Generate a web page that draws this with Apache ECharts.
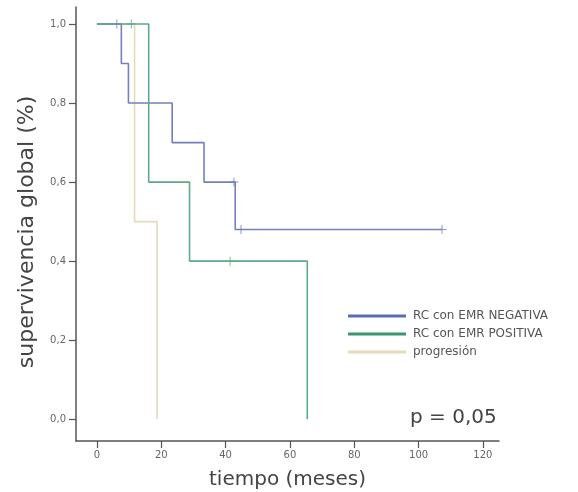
<!DOCTYPE html>
<html><head><meta charset="utf-8">
<script src="https://cdn.jsdelivr.net/npm/echarts@6/dist/echarts.min.js"></script>
<style>html,body{margin:0;padding:0;background:#fff}#c{width:578px;height:492px}</style>
</head><body><div id="c"></div>
<script>
// Kaplan-Meier data (months, survival)
var negTimes = [0, 7.6, 9.8, 23.4, 33.3, 43.0, 107.3];
var negSurv  = [1.0, 0.9, 0.8, 0.7, 0.6, 0.48, 0.48];
var negCensorT = [6.2, 42.6, 44.8, 107.3];
var negCensorS = [1.0, 0.6, 0.48, 0.48];

var posTimes = [0, 16.1, 28.8, 65.4];
var posSurv  = [1.0, 0.6, 0.4, 0.0];
var posCensorT = [10.7, 41.4];
var posCensorS = [1.0, 0.4];

var progTimes = [0, 11.7, 18.7];
var progSurv  = [1.0, 0.5, 0.0];

var seriesNames = ['RC con EMR NEGATIVA', 'RC con EMR POSITIVA', 'progresión'];
var xTicks = [0, 20, 40, 60, 80, 100, 120];
var yTicks = [0, 0.2, 0.4, 0.6, 0.8, 1.0];

function zip(a, b) { return a.map(function (v, i) { return [v, b[i]]; }); }

var cBlue = '#7480bd', cGreen = '#5fa888', cTan = '#e2dab8';
var lBlue = '#5a6db0', lGreen = '#3f9470', lTan = '#e3dbbb';
var font = '"DejaVu Sans", sans-serif';
var cross = 'path://M4,0L5,0L5,4L9,4L9,5L5,5L5,9L4,9L4,5L0,5L0,4L4,4Z';

var chart = echarts.init(document.getElementById('c'));
chart.setOption({
  animation: false,
  grid: { left: 76, right: 79, top: 7, bottom: 51, outerBoundsMode: 'none' },
  xAxis: {
    type: 'value', min: -6.5, max: 125,
    splitLine: { show: false },
    axisLine: { onZero: false, lineStyle: { color: '#555', width: 1.5 } },
    axisTick: { customValues: xTicks, length: 7, lineStyle: { color: '#555', width: 1.2 } },
    axisLabel: { customValues: xTicks, color: '#666', fontSize: 10, fontFamily: font, margin: 9 },
    name: 'tiempo (meses)', nameLocation: 'middle', nameGap: 29,
    nameTextStyle: { fontSize: 20, color: '#444', fontFamily: font }
  },
  yAxis: {
    type: 'value', min: -0.055, max: 1.043,
    splitLine: { show: false },
    axisLine: { onZero: false, lineStyle: { color: '#555', width: 1.5 } },
    axisTick: { customValues: yTicks, length: 7, lineStyle: { color: '#555', width: 1.2 } },
    axisLabel: { customValues: yTicks, color: '#666', fontSize: 10, fontFamily: font, margin: 10,
      formatter: function (v) { return v.toFixed(1).replace('.', ','); } }
  },
  legend: {
    orient: 'vertical', left: 343, top: 305, itemGap: 6,
    itemWidth: 58, itemHeight: 3, icon: 'rect',
    textStyle: { fontSize: 12, color: '#555', fontFamily: font, padding: [0, 0, 0, 2] },
    data: seriesNames
  },
  series: [
    { name: seriesNames[0], type: 'line', step: 'end', symbol: 'none', data: zip(negTimes, negSurv),
      lineStyle: { color: cBlue, width: 1.6 }, itemStyle: { color: lBlue }, z: 2 },
    { name: seriesNames[1], type: 'line', step: 'end', symbol: 'none', data: zip(posTimes, posSurv),
      lineStyle: { color: cGreen, width: 1.6 }, itemStyle: { color: lGreen }, z: 3 },
    { name: seriesNames[2], type: 'line', step: 'end', symbol: 'none', data: zip(progTimes, progSurv),
      lineStyle: { color: cTan, width: 1.6 }, itemStyle: { color: lTan }, z: 1 },
    { type: 'scatter', data: zip(negCensorT, negCensorS), symbol: cross, symbolSize: 9,
      itemStyle: { color: cBlue }, z: 4, silent: true },
    { type: 'scatter', data: zip(posCensorT, posCensorS), symbol: cross, symbolSize: 9,
      itemStyle: { color: cGreen }, z: 4, silent: true }
  ],
  graphic: [
    { type: 'text', x: 27, y: 232, rotation: Math.PI / 2,
      style: { text: 'supervivencia global (%)', fontSize: 22, fill: '#444', fontFamily: font,
               align: 'center', verticalAlign: 'middle' } },
    { type: 'text', left: 410, top: 408, style: { text: 'p = 0,05', fontSize: 20, fill: '#444', fontFamily: font } }
  ]
});
</script></body></html>
